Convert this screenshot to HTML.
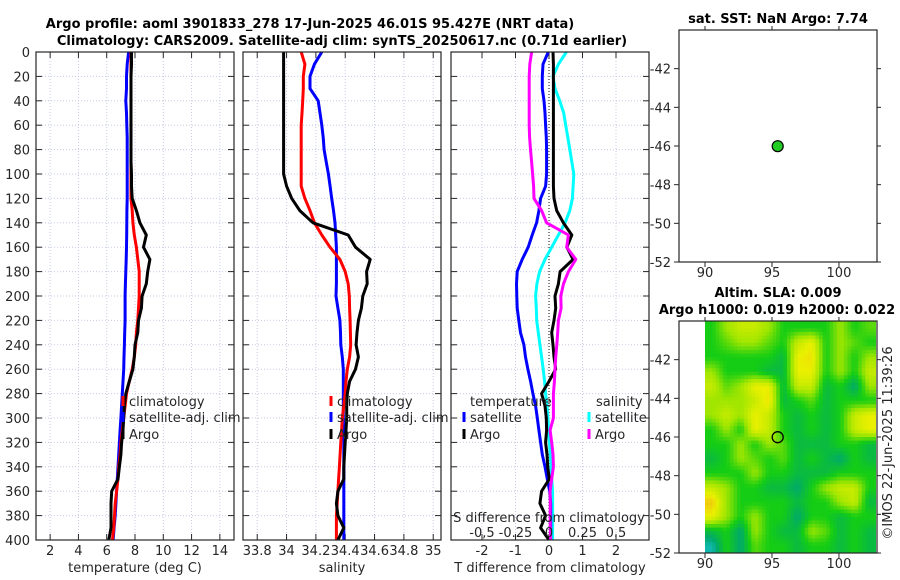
<!DOCTYPE html>
<html><head><meta charset="utf-8"><style>
html,body{margin:0;padding:0;background:#fff;}
svg{display:block;font-family:"DejaVu Sans","Liberation Sans",sans-serif;}
</style></head><body>
<svg id="fig" width="900" height="580" viewBox="0 0 900 580" xmlns="http://www.w3.org/2000/svg">
<defs>
<clipPath id="clipHeat"><rect x="704" y="321" width="172" height="232"/></clipPath>
</defs>
<g font-weight="bold" font-size="13" text-anchor="middle" fill="#000">
<text x="310" y="28">Argo profile: aoml 3901833_278 17-Jun-2025 46.01S 95.427E (NRT data)</text>
<text x="342" y="45">Climatology: CARS2009. Satellite-adj clim: synTS_20250617.nc (0.71d earlier)</text>
</g>
<g id="root"></g>
</svg>
<script>
const depths = [0,10,20,30,40,50,60,70,80,90,100,110,120,130,140,150,160,170,180,190,200,210,220,230,240,250,260,270,280,290,300,310,320,330,340,350,360,370,380,390,400];
const tArgo = [7.75,7.75,7.72,7.72,7.72,7.72,7.72,7.72,7.72,7.72,7.75,7.75,7.8,8.1,8.35,8.8,8.6,9.05,8.9,8.8,8.5,8.45,8.25,8.2,8.0,7.95,7.85,7.6,7.35,7.25,7.2,7.15,7.05,7.0,6.9,6.8,6.35,6.3,6.3,6.3,6.15];
const tClim = [7.72,7.72,7.72,7.72,7.72,7.72,7.72,7.72,7.72,7.72,7.72,7.72,7.72,7.8,7.85,7.95,8.1,8.2,8.3,8.3,8.3,8.25,8.2,8.1,8.05,7.95,7.8,7.6,7.4,7.3,7.2,7.1,7.0,6.95,6.85,6.8,6.7,6.6,6.55,6.5,6.4];
const tSat = [7.55,7.45,7.4,7.4,7.35,7.4,7.42,7.45,7.45,7.45,7.45,7.45,7.45,7.43,7.42,7.41,7.4,7.38,7.35,7.32,7.3,7.3,7.3,7.27,7.25,7.22,7.2,7.15,7.1,7.05,7.0,6.95,6.9,6.85,6.8,6.75,6.7,6.65,6.6,6.52,6.45];
const sArgo = [33.98,33.98,33.98,33.98,33.98,33.98,33.98,33.98,33.98,33.98,33.98,34.0,34.035,34.09,34.18,34.42,34.47,34.57,34.546,34.55,34.52,34.51,34.49,34.48,34.474,34.49,34.47,34.43,34.414,34.41,34.41,34.405,34.40,34.395,34.39,34.39,34.35,34.34,34.35,34.39,34.35];
const sClim = [34.10,34.125,34.114,34.114,34.11,34.105,34.10,34.10,34.10,34.10,34.10,34.10,34.125,34.16,34.19,34.24,34.296,34.364,34.40,34.42,34.428,34.43,34.433,34.435,34.437,34.43,34.414,34.405,34.40,34.39,34.38,34.375,34.37,34.365,34.36,34.355,34.35,34.345,34.34,34.34,34.34];
const sSat = [34.24,34.19,34.16,34.16,34.216,34.228,34.24,34.25,34.256,34.27,34.285,34.297,34.308,34.32,34.33,34.335,34.34,34.34,34.34,34.34,34.337,34.35,34.364,34.368,34.37,34.38,34.387,34.387,34.387,34.387,34.387,34.39,34.39,34.39,34.39,34.39,34.39,34.39,34.39,34.39,34.39];
const dTArgo = [0.12,0.13,0.13,0.13,0.13,0.13,0.13,0.13,0.13,0.13,0.13,0.13,0.15,0.23,0.43,0.68,0.53,0.72,0.33,0.28,0.18,0.2,0.15,0.08,0.12,0.15,0.2,0.0,-0.22,-0.12,-0.08,-0.07,-0.1,-0.06,-0.04,0.01,-0.22,-0.27,-0.1,-0.25,0.0];
const dTSat = [-0.02,-0.18,-0.2,-0.2,-0.15,-0.12,-0.1,-0.08,-0.07,-0.07,-0.07,-0.1,-0.25,-0.3,-0.37,-0.5,-0.62,-0.8,-0.95,-0.97,-0.96,-0.95,-0.9,-0.85,-0.75,-0.7,-0.63,-0.55,-0.48,-0.4,-0.35,-0.3,-0.25,-0.2,-0.12,-0.05,0.02,0.05,0.05,0.05,0.05];
const dSSat = [0.13,0.07,0.03,0.045,0.08,0.11,0.125,0.14,0.155,0.17,0.185,0.18,0.175,0.155,0.12,0.07,0.02,-0.03,-0.07,-0.09,-0.1,-0.095,-0.092,-0.08,-0.068,-0.055,-0.043,-0.033,-0.025,-0.015,-0.008,-0.003,0.003,0.01,0.015,0.02,0.027,0.027,0.027,0.027,0.027];
const dSArgo = [-0.13,-0.143,-0.148,-0.148,-0.148,-0.148,-0.148,-0.145,-0.138,-0.13,-0.122,-0.115,-0.112,-0.055,-0.018,0.145,0.132,0.2,0.145,0.108,0.088,0.09,0.07,0.065,0.058,0.05,0.045,0.04,0.033,0.033,0.033,0.008,0.02,0.03,0.033,0.02,0.008,0.01,0.008,0.01,0.012];
const depthTicks = [0,20,40,60,80,100,120,140,160,180,200,220,240,260,280,300,320,340,360,380,400];
const tTicks = [2,4,6,8,10,12,14];
const sTicks = [33.8,34,34.2,34.4,34.6,34.8,35];
const sTickLabels = ["33.8","34","34.2","34.4","34.6","34.8","35"];
const dTicks = [-2,-1,0,1,2];
const dsTicks = [-0.5,-0.25,0,0.25,0.5];
const dsTickLabels = ["-0,5","-0.25","0","0.25","0.5"];
const lonTicks = [90,95,100];
const latTicks = [-42,-44,-46,-48,-50,-52];
const argoLon = [95.427];
const argoLat = [-46.01];
const slaGrid = [
[2,3,3.5,3.5,3,2,2,2,2,3,2,2.5],
[2,2.5,3,3,2.5,2,3.5,4,2,3,2.5,2],
[2,2,2,2,2,1.5,4,4.2,2,3,2,3],
[3,2,2,2,1.5,1.5,4,4,2,3,2,3.5],
[3.5,2.5,3,4,4,1.5,3.5,3.5,1.5,2,1,3],
[3,3,3,3.5,4.2,1.5,2,2.5,1.5,2,2,2],
[3,3.5,3,4,3.5,2,1.5,2,1.5,2,3.5,4],
[2,3,2,4,3.5,2,1.5,2,1.5,2,3.5,4],
[2,2,3,2,3,2.5,1.5,1.5,1.5,2,2,1.5],
[1.5,2,3,2.5,2,2.5,1.5,2,1.5,1,2,1.5],
[2,2,2,3,2,2,1.5,1.5,1.5,2,2,2],
[3.5,3,2,2,1.5,1.5,1,2,3,3.5,3.5,2],
[4.5,3,2,2,2,2,1.5,2,2,3,3.5,1.5],
[4,3,2,3,2,2,1,2,2,1.5,2,2],
[1.5,2,1,3,2,1.5,1.5,3,2.5,1.5,2,1.5],
[0.5,2,1,2.5,2,2,1.5,2,2,1.5,2,1.5]];

const NS='http://www.w3.org/2000/svg';
const root=document.getElementById('root');
function mk(tag,attrs,parent){const e=document.createElementNS(NS,tag);for(const k in attrs)e.setAttribute(k,attrs[k]);(parent||root).appendChild(e);return e;}
function txt(x,y,s,attrs,parent){const e=mk('text',Object.assign({x:x,y:y,'font-size':13,fill:'#262626'},attrs||{}),parent);e.textContent=s;return e;}

const PT=52,PB=540;
const yD=d=>PT+(d-0)/400*(PB-PT);
function linX(x0,x1,v0,v1){return v=>x0+(v-v0)/(v1-v0)*(x1-x0);}

function panel(name,x0,x1,xs,ticks,labels,xlabel,showY){
  const g=mk('g',{});
  
  
  ticks.forEach(t=>{const gl=mk('line',{x1:xs(t),x2:xs(t),y1:PT,y2:PB,stroke:'#c6c9e6','stroke-width':1,'stroke-dasharray':'1,2'},g);
    });
  depthTicks.forEach(d=>{if(d===0||d===400)return;const gl=mk('line',{x1:x0,x2:x1,y1:yD(d),y2:yD(d),stroke:'#c6c9e6','stroke-width':1,'stroke-dasharray':'1,2'},g);
    });
  depthTicks.forEach(d=>{mk('line',{x1:x0,x2:x0+6,y1:yD(d),y2:yD(d),stroke:'#262626'},g);mk('line',{x1:x1-6,x2:x1,y1:yD(d),y2:yD(d),stroke:'#262626'},g);
    if(showY){const t=txt(30,yD(d)+5,String(d),{'text-anchor':'end'},g);}});
  ticks.forEach((t,i)=>{mk('line',{x1:xs(t),x2:xs(t),y1:PB,y2:PB-6,stroke:'#262626'},g);mk('line',{x1:xs(t),x2:xs(t),y1:PT,y2:PT+6,stroke:'#262626'},g);
    const l=txt(xs(t),555,labels[i],{'text-anchor':'middle'},g);});
  const xl=txt((x0+x1)/2,572,xlabel,{'text-anchor':'middle'},g);
  
  return g;
}
function series(g,name,vals,xs,color,w){
  const pts=vals.map((v,i)=>xs(v).toFixed(1)+','+yD(depths[i]).toFixed(1)).join(' ');
  const p=mk('polyline',{points:pts,fill:'none',stroke:color,'stroke-width':w||3,'stroke-linejoin':'round'},g);
  
  
}
function frame(g,x0,y0,x1,y1){mk('rect',{x:x0,y:y0,width:x1-x0,height:y1-y0,fill:'none',stroke:'#262626','stroke-width':1.2},g);}
function legendEntry(g,name,mx,y,color,label){
  const e=mk('g',{},g);
  
  
  mk('line',{x1:mx,x2:mx,y1:y-10,y2:y,stroke:color,'stroke-width':3},e);
  txt(mx+6,y,label,{},e);
}

const xT=linX(36,234,1,15);
const g1=panel('temperature-panel',36,234,xT,tTicks,tTicks.map(String),'temperature (deg C)',true);
series(g1,'temperature-satellite-line',tSat,xT,'#0000ff');
series(g1,'temperature-climatology-line',tClim,xT,'#ff0000');
series(g1,'temperature-argo-line',tArgo,xT,'#000000');
frame(g1,36,PT,234,PB);
legendEntry(g1,'legend-climatology',123,406,'#ff0000','climatology');
legendEntry(g1,'legend-satellite-adj',123,422,'#0000ff','satellite-adj. clim');
legendEntry(g1,'legend-argo',123,439,'#000000','Argo');

const xS=linX(243,441,33.703,35.053);
const g2=panel('salinity-panel',243,441,xS,sTicks,sTickLabels,'salinity',false);
series(g2,'salinity-satellite-line',sSat,xS,'#0000ff');
series(g2,'salinity-climatology-line',sClim,xS,'#ff0000');
series(g2,'salinity-argo-line',sArgo,xS,'#000000');
frame(g2,243,PT,441,PB);
legendEntry(g2,'legend-climatology',331,406,'#ff0000','climatology');
legendEntry(g2,'legend-satellite-adj',331,422,'#0000ff','satellite-adj. clim');
legendEntry(g2,'legend-argo',331,439,'#000000','Argo');

const xDT=linX(451,649,-2.925,2.985);
const xDS=v=>xDT(v*4);
const g3=panel('difference-panel',451,649,xDT,dTicks,dTicks.map(String),'T difference from climatology',false);
const z=mk('line',{x1:xDT(0),x2:xDT(0),y1:PT,y2:PB,stroke:'#333','stroke-width':1.2,'stroke-dasharray':'1,2'},g3);

series(g3,'s-diff-satellite-line',dSSat,xDS,'#00ffff');
series(g3,'t-diff-satellite-line',dTSat,xDT,'#0000ff');
series(g3,'t-diff-argo-line',dTArgo,xDT,'#000000');
series(g3,'s-diff-argo-line',dSArgo,xDS,'#ff00ff');
frame(g3,451,PT,649,PB);
const th=txt(470,406,'temperature',{},g3);
const sh=txt(596,406,'salinity',{},g3);
legendEntry(g3,'legend-t-satellite',464,422,'#0000ff','satellite');
legendEntry(g3,'legend-t-argo',464,439,'#000000','Argo');
legendEntry(g3,'legend-s-satellite',589,422,'#00ffff','satellite');
legendEntry(g3,'legend-s-argo',589,439,'#ff00ff','Argo');
const sdl=txt(549,522,'S difference from climatology',{'text-anchor':'middle'},g3);

dsTicks.forEach((t,i)=>{const l=txt(xDS(t),537,dsTickLabels[i],{'text-anchor':'middle'},g3);
  });

const xLon=linX(679,877,88.06,102.84);
function mapAxes(name,y0,y1){
  const g=mk('g',{});
  
  
  const yLat=linX(y0,y1,-40,-52);
  return {g,yLat};
}
function mapTicks(g,yLat,y0,y1){
  lonTicks.forEach(t=>{mk('line',{x1:xLon(t),x2:xLon(t),y1:y1,y2:y1+5,stroke:'#262626'},g);mk('line',{x1:xLon(t),x2:xLon(t),y1:y0,y2:y0-4,stroke:'#262626'},g);
    const l=txt(xLon(t),y1+15,String(t),{'text-anchor':'middle'},g);});
  latTicks.forEach(t=>{mk('line',{x1:679,x2:674,y1:yLat(t),y2:yLat(t),stroke:'#262626'},g);mk('line',{x1:877,x2:881,y1:yLat(t),y2:yLat(t),stroke:'#262626'},g);
    const l=txt(671,yLat(t)+5,String(t),{'text-anchor':'end'},g);});
  frame(g,679,y0,877,y1);
}
const m1=mapAxes('sst-map',30,262);
const t1=txt(778,23,'sat. SST: NaN Argo: 7.74',{'text-anchor':'middle','font-weight':'bold',fill:'#000'},m1.g);

mapTicks(m1.g,m1.yLat,30,262);
const dot1=mk('circle',{cx:xLon(argoLon[0]),cy:m1.yLat(argoLat[0]),r:5.5,fill:'#22cc22',stroke:'#000','stroke-width':1.2},m1.g);


const m2=mapAxes('sla-map',321,553);
const t2=txt(778,297,'Altim. SLA: 0.009',{'text-anchor':'middle','font-weight':'bold',fill:'#000'},m2.g);

const t3=txt(777,314,'Argo h1000: 0.019 h2000: 0.022',{'text-anchor':'middle','font-weight':'bold',fill:'#000'},m2.g);

const stops=[[0,[30,200,235]],[1,[0,168,110]],[2,[20,205,20]],[3,[160,230,0]],[4,[235,240,0]],[5,[245,160,30]]];
function cmap(v){for(let i=0;i<stops.length-1;i++){const a=stops[i],b=stops[i+1];if(v<=b[0]){const f=Math.max(0,(v-a[0])/(b[0]-a[0]));const c=a[1].map((q,k)=>Math.round(q+(b[1][k]-q)*f));return 'rgb('+c.join(',')+')';}}return 'rgb(245,160,30)';}
const hc=mk('g',{'clip-path':'url(#clipHeat)'},m2.g);
const nR=slaGrid.length,nC=slaGrid[0].length;
const hx0=xLon(90),hx1=876,hy0=321,hy1=553;
const UP=4;
const cw=(hx1-hx0)/(nC*UP),ch=(hy1-hy0)/(nR*UP);
function sample(fr,fc){
  const r=Math.min(nR-1,Math.max(0,fr)),c=Math.min(nC-1,Math.max(0,fc));
  const r0=Math.floor(r),c0=Math.floor(c),r1=Math.min(nR-1,r0+1),c1=Math.min(nC-1,c0+1);
  const dr=r-r0,dc=c-c0;
  return slaGrid[r0][c0]*(1-dr)*(1-dc)+slaGrid[r0][c1]*(1-dr)*dc+slaGrid[r1][c0]*dr*(1-dc)+slaGrid[r1][c1]*dr*dc;
}
for(let i=0;i<nR*UP;i++){for(let j=0;j<nC*UP;j++){
  const v=sample((i+0.5)/UP-0.5,(j+0.5)/UP-0.5);
  const cell=mk('rect',{x:(hx0+j*cw).toFixed(2),y:(hy0+i*ch).toFixed(2),width:(cw+0.5).toFixed(2),height:(ch+0.5).toFixed(2),fill:cmap(v)},hc);
  
  
}}
mapTicks(m2.g,m2.yLat,321,553);
const dot2=mk('circle',{cx:xLon(argoLon[0]),cy:m2.yLat(argoLat[0]),r:5.5,fill:'none',stroke:'#000','stroke-width':1.3},m2.g);


const cr=txt(0,0,'©IMOS 22-Jun-2025 11:39:26',{'text-anchor':'middle',transform:'translate(892,443) rotate(-90)'});


</script>
</body></html>
